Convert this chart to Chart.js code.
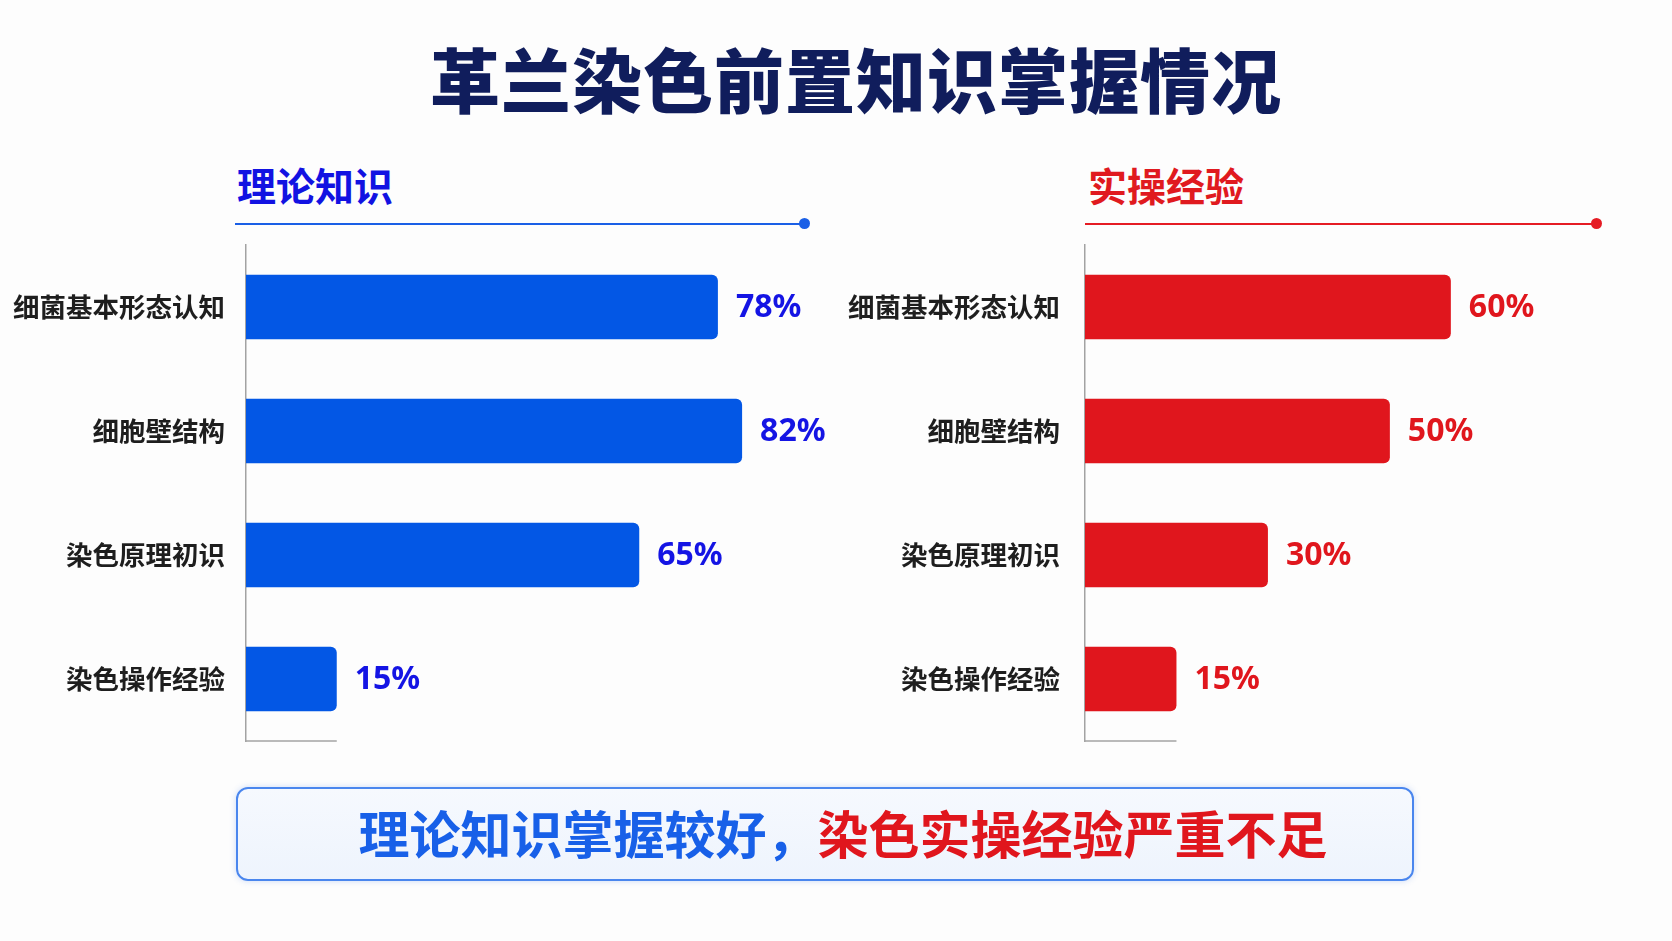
<!DOCTYPE html>
<html>
<head>
<meta charset="utf-8">
<script src="https://cdn.jsdelivr.net/npm/chart.js@4"></script>
<style>
  html, body { margin:0; padding:0; background:#fdfdfd; }
  body { width:1672px; height:941px; position:relative; overflow:hidden; font-family:'Noto Sans CJK SC','Noto Sans',sans-serif; }
  .title { position:absolute; left:0; width:1712px; top:36px; text-align:center; font-size:70px; font-weight:900; color:#101d5c; line-height:84px; letter-spacing:1px; }
  .sub { position:absolute; top:162px; font-size:39px; font-weight:700; line-height:44px; }
  .rule { position:absolute; height:2px; }
  .dot { position:absolute; width:11px; height:11px; border-radius:50%; }
  canvas { position:absolute; }
  .box { position:absolute; left:236px; top:787px; width:1174px; height:90px; border:2px solid #4a86ee; border-radius:12px;
         background:linear-gradient(#f6f9fe,#eef4fd); box-shadow:0 0 6px rgba(60,120,230,0.25); text-align:center; }
  .box div { padding-left:36px; line-height:86px; }
  .box span { font-size:51px; font-weight:700; }
</style>
</head>
<body>
<div class="title">革兰染色前置知识掌握情况</div>

<div class="sub" style="left:237px;color:#1212e2">理论知识</div>
<div class="rule" style="left:235px;top:223px;width:569px;background:#1a5fe6"></div>
<div class="dot" style="left:799px;top:218px;background:#1a5fe6"></div>

<div class="sub" style="left:1088px;color:#e01a1f">实操经验</div>
<div class="rule" style="left:1085px;top:223px;width:511px;background:#e51c24"></div>
<div class="dot" style="left:1591px;top:218px;background:#e51c24"></div>

<canvas id="leftChart" width="880" height="536" style="left:0;top:225px"></canvas>
<canvas id="rightChart" width="872" height="536" style="left:800px;top:225px"></canvas>

<div class="box"><div><span style="color:#1860e8">理论知识掌握较好，</span><span style="color:#e0161d">染色实操经验严重不足</span></div></div>

<script>
// 数据
const categories = ['细菌基本形态认知', '细胞壁结构', '染色原理初识', '染色操作经验'];
const theoryValues = [78, 82, 65, 15];
const practiceValues = [60, 50, 30, 15];

// 数值标签 + 底部短线
const barExtras = {
  id: 'barExtras',
  afterDatasetsDraw(chart, args, opts) {
    const ctx = chart.ctx;
    const meta = chart.getDatasetMeta(0);
    const data = chart.data.datasets[0].data;
    ctx.save();
    ctx.font = "bold 32px 'Noto Sans', sans-serif";
    ctx.fillStyle = opts.color;
    ctx.textBaseline = 'middle';
    ctx.textAlign = 'left';
    meta.data.forEach((bar, i) => {
      ctx.fillText(data[i] + '%', bar.x + 18, bar.y + 1);
    });
    // bottom line, as long as the last bar
    const xs = chart.scales.x;
    const yb = chart.chartArea.bottom;
    ctx.strokeStyle = '#a3a3a3';
    ctx.lineWidth = 1.5;
    ctx.beginPath();
    ctx.moveTo(xs.getPixelForValue(0), yb);
    ctx.lineTo(xs.getPixelForValue(data[data.length - 1]), yb);
    ctx.stroke();
    ctx.restore();
  }
};

function makeChart(id, values, barColor, labelColor, axisWidth, xMax, padRight, tickPad) {
  return new Chart(document.getElementById(id), {
    type: 'bar',
    data: {
      labels: categories,
      datasets: [{
        data: values,
        backgroundColor: barColor,
        borderRadius: 6,
        borderSkipped: 'start',
        categoryPercentage: 1,
        barPercentage: 0.52
      }]
    },
    options: {
      indexAxis: 'y',
      responsive: false,
      animation: false,
      devicePixelRatio: 1,
      layout: { padding: { top: 20, bottom: 20, left: 0, right: padRight } },
      plugins: { legend: { display: false }, tooltip: { enabled: false }, barExtras: { color: labelColor } },
      scales: {
        x: { display: false, min: 0, max: xMax },
        y: {
          grid: { display: false, drawTicks: false },
          border: { display: true, color: '#a3a3a3', width: 1.5 },
          ticks: { color: '#1e1e1e', padding: tickPad, font: { size: 26.5, weight: 'bold', family: "'Noto Sans CJK SC', sans-serif" } },
          afterFit: (scale) => { scale.width = axisWidth; scale.paddingTop = 0; scale.paddingBottom = 0; }
        }
      }
    },
    plugins: [barExtras]
  });
}

makeChart('leftChart', theoryValues, '#0357e5', '#1414e4', 246, 100, 29, 21);
makeChart('rightChart', practiceValues, '#e0161d', '#e0161d', 285, 89.3, 42.5, 25);
</script>
</body>
</html>
